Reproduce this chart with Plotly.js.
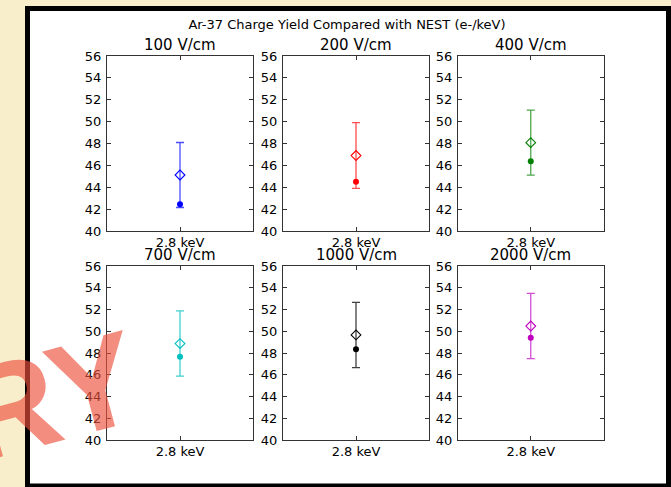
<!DOCTYPE html>
<html>
<head>
<meta charset="utf-8">
<script src="https://cdn.plot.ly/plotly-3.0.1.min.js"></script>
<style>
  html, body { margin: 0; padding: 0; background: #f8eecb; }
  #chart { width: 671px; height: 487px; }
</style>
</head>
<body>
<div id="chart"></div>
<script>
// ---- data ----
const categories = ['2.8 keV'];
const fieldLabels = ['100 V/cm', '200 V/cm', '400 V/cm', '700 V/cm', '1000 V/cm', '2000 V/cm'];
const diamondYield = [45.12, 46.90, 48.08, 48.87, 49.66, 50.48];   // open diamonds (with error bars)
const diamondError = [2.97, 3.00, 2.98, 3.00, 3.00, 3.00];
const dotYield = [42.44, 44.51, 46.37, 47.66, 48.34, 49.41];       // filled dots
const seriesColors = ['#0000ff', '#ff0000', '#008000', '#00bfbf', '#000000', '#bf00bf'];
const errorColors = ['rgba(0,0,255,0.7)', 'rgba(255,0,0,0.7)', 'rgba(0,128,0,0.7)',
                     'rgba(0,191,191,0.75)', 'rgba(0,0,0,0.75)', 'rgba(191,0,191,0.7)'];
const yTickValues = [40, 42, 44, 46, 48, 50, 52, 54, 56];
const mainTitle = 'Ar-37 Charge Yield Compared with NEST (e-/keV)';
const watermark = 'RY';

// ---- layout geometry (pixels) ----
const W = 671, H = 487;
const colPx = [[107, 253], [283, 429], [458, 603.5]];
const rowPx = [[56, 231], [266, 440]];
const px2x = p => p / W;
const px2y = p => 1 - p / H;

const FONT = 'DejaVu Sans, Verdana, sans-serif';
const traces = [];
const layout = {
  width: W, height: H,
  margin: {l: 0, r: 0, t: 0, b: 0},
  paper_bgcolor: '#f8eecb',
  plot_bgcolor: '#ffffff',
  showlegend: false,
  font: {family: FONT, color: '#000', size: 13},
  title: {
    text: mainTitle,
    font: {family: FONT, size: 13, color: '#000'},
    x: 347 / W, xanchor: 'center', xref: 'paper',
    y: 1 - 24.5 / H, yanchor: 'middle', yref: 'container'
  },
  shapes: [{
    type: 'rect', xref: 'paper', yref: 'paper', layer: 'below',
    x0: px2x(27.5), x1: px2x(668.5), y0: px2y(486), y1: px2y(8.5),
    fillcolor: '#ffffff', line: {color: '#000000', width: 5}
  }],
  annotations: []
};

for (let i = 0; i < 6; i++) {
  const r = Math.floor(i / 3), c = i % 3;
  const sfx = i === 0 ? '' : String(i + 1);
  const xa = 'x' + sfx, ya = 'y' + sfx;
  const xd = [px2x(colPx[c][0]), px2x(colPx[c][1])];
  const yd = [px2y(rowPx[r][1]), px2y(rowPx[r][0])];

  traces.push({
    type: 'scatter', mode: 'markers', xaxis: xa, yaxis: ya,
    x: categories, y: [diamondYield[i]],
    error_y: {type: 'data', array: [diamondError[i]], visible: true,
              color: errorColors[i], thickness: 1.3, width: 4},
    marker: {symbol: 'diamond-open', size: 7.5, color: seriesColors[i],
             line: {width: 1.1, color: seriesColors[i]}},
    hoverinfo: 'y'
  });
  traces.push({
    type: 'scatter', mode: 'markers', xaxis: xa, yaxis: ya,
    x: categories, y: [dotYield[i]],
    marker: {symbol: 'circle', size: 6, color: seriesColors[i]},
    hoverinfo: 'y'
  });

  layout['xaxis' + sfx] = {
    domain: xd, anchor: ya, type: 'category', range: [-1, 1],
    showline: true, linecolor: '#333', linewidth: 1.2, mirror: 'ticks',
    ticks: 'inside', ticklen: 4, tickcolor: '#333', tickwidth: 1,
    ticklabelstandoff: -1,
    showgrid: false, zeroline: false, fixedrange: true,
    tickfont: {family: FONT, size: 13, color: '#000'}
  };
  layout['yaxis' + sfx] = {
    domain: yd, anchor: xa, range: [40, 56],
    tickmode: 'array', tickvals: yTickValues,
    showline: true, linecolor: '#333', linewidth: 1.2, mirror: 'ticks',
    ticks: 'inside', ticklen: 4, tickcolor: '#333', tickwidth: 1,
    ticklabelstandoff: 2,
    showgrid: false, zeroline: false, fixedrange: true,
    tickfont: {family: FONT, size: 13, color: '#000'}
  };
  layout.annotations.push({
    text: fieldLabels[i], xref: 'paper', yref: 'paper',
    x: (xd[0] + xd[1]) / 2, y: yd[1], xanchor: 'center', yanchor: 'bottom',
    showarrow: false, font: {family: FONT, size: 15, color: '#000'}
  });
}

// watermark (partially visible "PRELIMINARY" stamp)
layout.annotations.push({
  text: '<b>' + watermark + '</b>', xref: 'paper', yref: 'paper',
  x: 50 / W, y: 1 - 396 / H, xanchor: 'center', yanchor: 'middle',
  showarrow: false, textangle: -15,
  font: {family: 'Liberation Sans, Arial, sans-serif', size: 132, color: 'rgba(236,80,60,0.65)'}
});

Plotly.newPlot('chart', traces, layout, {staticPlot: true, displayModeBar: false});
</script>
</body>
</html>
